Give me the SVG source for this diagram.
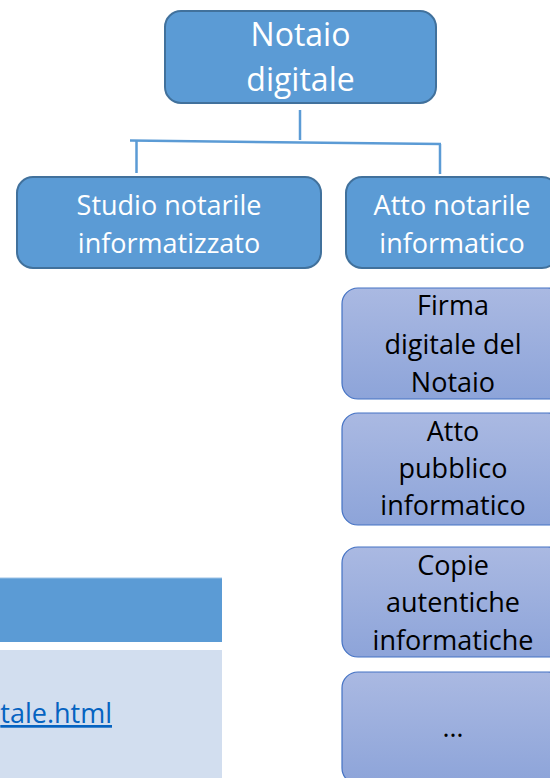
<svg xmlns="http://www.w3.org/2000/svg" width="550" height="778" viewBox="0 0 550 778">
<defs>
<linearGradient id="g" x1="0" y1="0" x2="0" y2="1">
<stop offset="0" stop-color="#AAB9E2"/>
<stop offset="1" stop-color="#8DA4D9"/>
</linearGradient>
<style>
.dark{fill:#5B9BD5;stroke:#41719C;stroke-width:2}
.light{fill:url(#g);stroke:#4472C4;stroke-width:1.2}
.wt{font-family:"Open Sans","DejaVu Sans",sans-serif;fill:#fff;text-anchor:middle}
.bt{font-family:"Open Sans","DejaVu Sans",sans-serif;fill:#000;text-anchor:middle;font-size:27px}
.conn{stroke:#5B9BD5;stroke-width:2.5;fill:none}
</style>
</defs>
<rect width="550" height="778" fill="#fff"/>
<g id="table">
<rect x="0" y="578" width="222" height="64" fill="#5B9BD5"/>
<line x1="0" y1="578" x2="222" y2="578" stroke="#9DC3E6" stroke-width="1"/>
<rect x="0" y="650" width="222" height="128" fill="#D2DEEF"/>
<text x="112" y="723" font-family="Open Sans, DejaVu Sans, sans-serif" font-size="27" fill="#0563C1" text-anchor="end" text-decoration="underline">tale.html</text>
</g>
<g id="connectors">
<line class="conn" x1="300" y1="110" x2="300" y2="140"/>
<line class="conn" x1="130" y1="140.5" x2="441" y2="144"/>
<line class="conn" x1="136.5" y1="141" x2="136.5" y2="173"/>
<line class="conn" x1="440" y1="144" x2="440" y2="174"/>
</g>
<g id="n-notaio">
<rect class="dark" x="165" y="11" width="271" height="92" rx="16"/>
<text class="wt" font-size="32" x="300.5" y="46">Notaio</text>
<text class="wt" font-size="32" x="300.5" y="90.5">digitale</text>
</g>
<g id="n-studio">
<rect class="dark" x="17" y="177" width="304" height="91" rx="16"/>
<text class="wt" font-size="27" x="169" y="215">Studio notarile</text>
<text class="wt" font-size="27" x="169" y="253">informatizzato</text>
</g>
<g id="n-atto">
<rect class="dark" x="346" y="177" width="212" height="91" rx="16"/>
<text class="wt" font-size="27" x="452" y="215">Atto notarile</text>
<text class="wt" font-size="27" x="452" y="253">informatico</text>
</g>
<g id="n-firma">
<rect class="light" x="342" y="288" width="222" height="111" rx="16"/>
<text class="bt" x="453" y="315">Firma</text>
<text class="bt" x="453" y="354">digitale del</text>
<text class="bt" x="453" y="392">Notaio</text>
</g>
<g id="n-pubblico">
<rect class="light" x="342" y="413" width="222" height="112" rx="16"/>
<text class="bt" x="453" y="441">Atto</text>
<text class="bt" x="453" y="478">pubblico</text>
<text class="bt" x="453" y="515">informatico</text>
</g>
<g id="n-copie">
<rect class="light" x="342" y="547" width="222" height="110" rx="16"/>
<text class="bt" x="453" y="575">Copie</text>
<text class="bt" x="453" y="612">autentiche</text>
<text class="bt" x="453" y="650">informatiche</text>
</g>
<g id="n-more">
<rect class="light" x="342" y="672" width="222" height="112" rx="16"/>
<text class="bt" x="453" y="737">…</text>
</g>
</svg>
